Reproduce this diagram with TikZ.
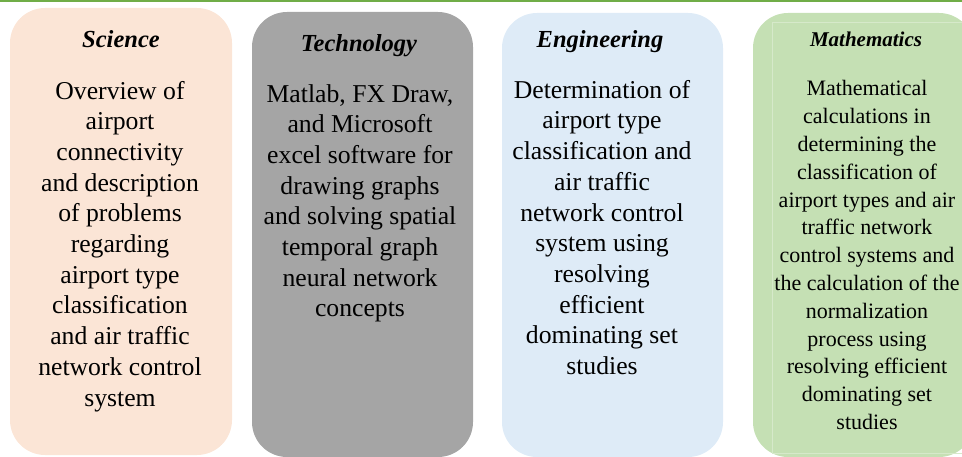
\documentclass[tikz,border=0pt]{standalone}
\usepackage{fontspec}
\setmainfont{Liberation Serif}[BoldItalicFont={Liberation Serif Bold Italic}]
\usetikzlibrary{positioning}
\definecolor{scifill}{HTML}{FBE5D6}
\definecolor{techfill}{HTML}{A5A5A5}
\definecolor{engfill}{HTML}{DEEBF7}
\definecolor{mathfill}{HTML}{C5E0B4}
\definecolor{topgreen}{HTML}{70AD47}
\tikzset{
  panel/.style={rounded corners=35pt, inner sep=0pt, minimum width=221pt},
  head/.style={font=\fontsize{24.5}{28}\selectfont\bfseries\itshape, anchor=base, inner sep=0pt},
  body/.style={font=\fontsize{25.7}{30.7}\selectfont, align=center, anchor=base, inner sep=0pt},
  smallbody/.style={font=\fontsize{22}{27.8}\selectfont, align=center, anchor=base, inner sep=0pt}
}

\begin{document}
\begin{tikzpicture}[x=1pt,y=-1pt]
    \path[use as bounding box, clip] (0,0) rectangle (962,457);

    \coordinate (topl) at (0,1);
    \coordinate (topr) at (962,1);
    \draw[topgreen, line width=2.5pt] (topl) -- (topr);

    % base anchor of the body texts sits on their last line
    \node[panel, fill=scifill, minimum width=222pt, minimum height=447pt] (sci) at (121,231.5) {};
    \node[head] (scihead) at (121,48) {Science};
    \node[body] (scitext) at (120,406) {Overview of\\airport\\connectivity\\and description\\of problems\\regarding\\airport type\\classification\\and air traffic\\network control\\system};

    \node[panel, fill=techfill, minimum height=445pt] (tech) at (362.5,234.5) {};
    \node[head] (techhead) at (359,52) {Technology};
    \node[body] (techtext) at (360,317) {Matlab, FX Draw,\\and Microsoft\\excel software for\\drawing graphs\\and solving spatial\\temporal graph\\neural network\\concepts};

    \node[panel, fill=engfill, minimum height=444pt] (eng) at (612.5,235) {};
    \node[head] (enghead) at (600,48) {Engineering};
    \node[body] (engtext) at (602,374.5) {Determination of\\airport type\\classification and\\air traffic\\network control\\system using\\resolving\\efficient\\dominating set\\studies};

    \node[panel, fill=mathfill, minimum height=444pt] (math) at (863.5,235) {};
    \draw[mathfill!70!white, line width=0.6pt] (772,22) rectangle (990,453);
    \node[head, font=\fontsize{21}{25}\selectfont\bfseries\itshape] (mathhead) at (866,47) {Mathematics};
    \node[smallbody] (mathtext) at (867,429.5) {Mathematical\\calculations in\\determining the\\classification of\\airport types and air\\traffic network\\control systems and\\the calculation of the\\normalization\\process using\\resolving efficient\\dominating set\\studies};
\end{tikzpicture}
\end{document}
